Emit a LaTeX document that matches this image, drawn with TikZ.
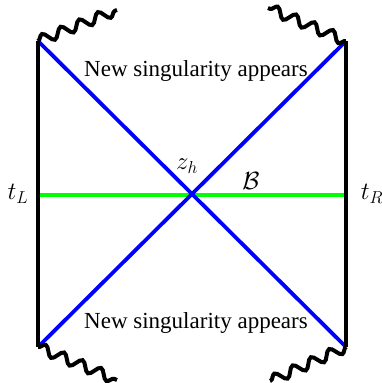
\documentclass[tikz,border=0pt]{standalone}
\usepackage{fontspec}
\setmainfont{Liberation Serif}
\usetikzlibrary{decorations.pathmorphing}
\begin{document}
\begin{tikzpicture}[x=1pt,y=-1pt,
  edge/.style={line width=4.2pt,black},
  horizon/.style={line width=3.8pt,blue},
  slice/.style={line width=4.2pt,green},
  sing/.style={line width=4pt,black,decorate,decoration={snake,segment length=20pt,amplitude=5pt}},
  lab/.style={font=\fontsize{23}{27}\selectfont,inner sep=0pt}]
\useasboundingbox (0,0) rectangle (382,383);
\coordinate (TL) at (38,41);
\coordinate (TR) at (346,41);
\coordinate (BL) at (38,347);
\coordinate (BR) at (346,347);
\coordinate (ML) at (38,195);
\coordinate (MR) at (346,195);
\coordinate (TLs) at (117,10);
\coordinate (TRs) at (268,8);
\coordinate (BLs) at (117,380);
\coordinate (BRs) at (270,381);
\draw[slice] (ML) -- (MR);
\draw[horizon] (TL) -- (BR);
\draw[horizon] (BL) -- (TR);
\draw[edge] (TL) -- (BL);
\draw[edge] (TR) -- (BR);
\draw[sing] (TL) -- (TLs);
\draw[sing] (TR) -- (TRs);
\draw[sing] (BL) -- (BLs);
\draw[sing] (BR) -- (BRs);
\node[lab] (top) at (196,71) {New singularity appears};
\node[lab] (bot) at (196,323) {New singularity appears};
\node[lab] (tl) at (18,194) {$t_L$};
\node[lab] (tr) at (372,194) {$t_R$};
\node[lab] (zh) at (187,166) {$z_h$};
\node[lab] (B) at (251,181) {$\mathcal{B}$};
\end{tikzpicture}
\end{document}
